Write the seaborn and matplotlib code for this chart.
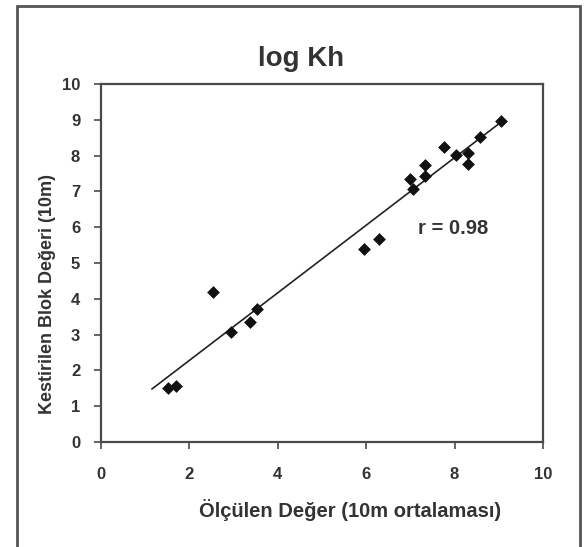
import matplotlib
matplotlib.use("Agg")
import matplotlib.pyplot as plt
import seaborn as sns
import numpy as np
import pandas as pd
from matplotlib.patches import Rectangle

# measured (10 m average) vs estimated block value, log Kh
olculen = [1.51, 1.70, 2.53, 2.94, 3.38, 3.52, 5.94, 6.30, 7.00, 7.05,
           7.32, 7.32, 7.75, 8.02, 8.31, 8.31, 8.58, 9.04]
kestirilen = [1.51, 1.56, 4.19, 3.07, 3.34, 3.71, 5.40, 5.67, 7.36, 7.08,
              7.74, 7.43, 8.23, 8.01, 8.06, 7.77, 8.51, 8.97]
trend_x = [1.15, 9.0]
r_label = "r = 0.98"
x_ticks = [0, 2, 4, 6, 8, 10]
y_ticks = list(range(0, 11))

df = pd.DataFrame({"x": olculen, "y": kestirilen})

sns.set_style("ticks")
plt.rcParams["font.family"] = ["Liberation Sans", "DejaVu Sans"]
txt = "#333333"
edge = "#4a4a4a"

fig = plt.figure(figsize=(5.88, 5.47), dpi=100)
ax = fig.add_axes([0.1718, 0.1920, 0.7517, 0.6544])

slope, icpt = np.polyfit(df["x"], df["y"], 1)
line = pd.DataFrame({"x": trend_x, "y": [slope * v + icpt for v in trend_x]})
sns.lineplot(data=line, x="x", y="y", ax=ax, color="#222222", lw=1.2)
sns.scatterplot(data=df, x="x", y="y", ax=ax, marker="D", s=36,
                color="#111111", edgecolor="#111111", linewidth=0.5, zorder=3)

ax.set_xlim(0, 10)
ax.set_ylim(0, 10)
ax.set_xticks(x_ticks)
ax.set_yticks(y_ticks)
ax.tick_params(direction="out", length=5, width=1.2, color=edge,
               labelsize=12, labelcolor=txt)
ax.tick_params(axis="x", pad=13)
ax.tick_params(axis="y", pad=10)
for lab in ax.get_xticklabels() + ax.get_yticklabels():
    lab.set_fontweight("bold")
for sp in ax.spines.values():
    sp.set_visible(True)
    sp.set_color(edge)
    sp.set_linewidth(1.6)
ax.set_xlabel("")
ax.set_ylabel("")

ax.text(7.17, 5.95, r_label, fontsize=14.5, fontweight="bold", color=txt,
        va="center", ha="left")

fig.text(0.512, 0.879, "log Kh", fontsize=20, fontweight="bold", color=txt,
         ha="center", va="baseline")
fig.text(0.595, 0.055, "Ölçülen Değer (10m ortalaması)", fontsize=14.5,
         fontweight="bold", color=txt, ha="center", va="baseline")
fig.text(0.080, 0.462, "Kestirilen Blok Değeri (10m)", fontsize=13,
         fontweight="bold", color=txt, ha="center", va="center", rotation=90)

fig.patches.append(Rectangle((0.029, -0.05), 0.958, 1.039, transform=fig.transFigure,
                             fill=False, edgecolor="#555555", lw=2.0))

fig.savefig("out.png", dpi=100)
